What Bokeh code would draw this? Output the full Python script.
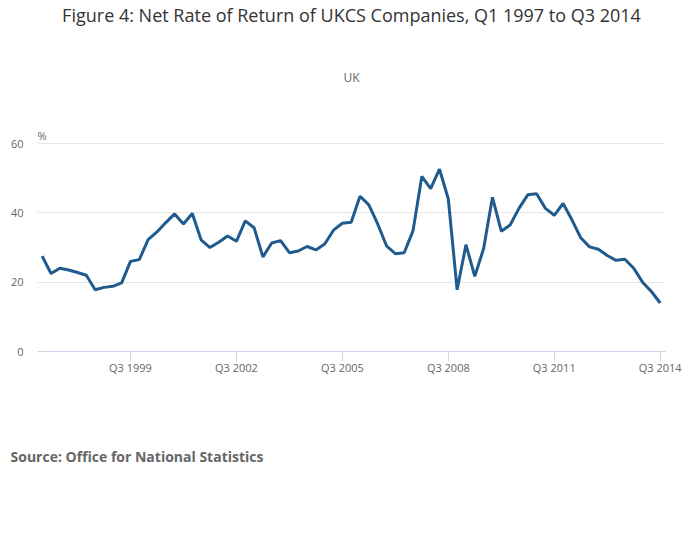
from bokeh.plotting import figure
from bokeh.models import FixedTicker, Range1d, Title
from bokeh.embed import file_html
from bokeh.resources import INLINE

values = [27.5, 22.5, 24, 23.5, 22.8, 22, 17.8, 18.5, 18.8, 19.8,
          26, 26.5, 32.3, 34.5, 37.2, 39.7, 36.8, 39.8, 32.2, 30,
          31.5, 33.3, 31.8, 37.7, 35.7, 27.3, 31.3, 32, 28.5, 29,
          30.3, 29.3, 31, 35, 37, 37.3, 44.8, 42.3, 36.8, 30.5,
          28.2, 28.5, 34.8, 50.5, 47, 52.6, 44, 17.8, 30.8, 21.7,
          29.7, 44.5, 34.7, 36.5, 41.3, 45.2, 45.5, 41.3, 39.3, 42.7,
          38, 32.8, 30.2, 29.5, 27.7, 26.3, 26.6, 24, 20, 17.3, 14]
quarters = list(range(len(values)))
tick_pos = [10, 22, 34, 46, 58, 70]
tick_labels = ["Q3 1999", "Q3 2002", "Q3 2005", "Q3 2008", "Q3 2011", "Q3 2014"]

F = "Open Sans"
p = figure(width=684, height=533, output_backend="svg", toolbar_location=None,
           x_range=Range1d(-0.53, 70.6), y_range=Range1d(0, 60.3),
           min_border_left=37, min_border_right=19, min_border_top=0, min_border_bottom=0)
p.outline_line_color = None
p.line(quarters, values, line_color="#1f5b8e", line_width=3)

p.title.text = "Figure 4: Net Rate of Return of UKCS Companies, Q1 1997 to Q3 2014"
p.title.text_font = F
p.title.text_font_size = "18px"
p.title.text_font_style = "normal"
p.title.text_color = "#333333"
p.title.align = "center"
p.title.standoff = 0

p.add_layout(Title(text="%", text_font=F, text_font_size="11px", text_font_style="normal",
                   text_color="#666666", align="left", standoff=0), "above")
p.add_layout(Title(text="UK", text_font=F, text_font_size="12px", text_font_style="normal",
                   text_color="#666666", align="center", standoff=80), "above")
p.add_layout(Title(text="Source: Office for National Statistics", text_font=F,
                   text_font_size="14px", text_font_style="bold", text_color="#666666",
                   align="left", offset=-27, standoff=135), "below")

p.xaxis.ticker = FixedTicker(ticks=tick_pos)
p.xaxis.major_label_overrides = {t: l for t, l in zip(tick_pos, tick_labels)}
p.xaxis.axis_line_color = "#ccd6eb"
p.xaxis.major_tick_line_color = "#ccd6eb"
p.xaxis.major_tick_in = 0
p.xaxis.major_tick_out = 10
p.xaxis.minor_tick_line_color = None
p.xaxis.major_label_text_font = F
p.xaxis.major_label_text_font_size = "11px"
p.xaxis.major_label_text_color = "#666666"
p.xaxis.major_label_standoff = -2

p.yaxis.ticker = FixedTicker(ticks=[0, 20, 40, 60])
p.yaxis.axis_line_color = None
p.yaxis.major_tick_line_color = None
p.yaxis.minor_tick_line_color = None
p.yaxis.major_label_text_font = F
p.yaxis.major_label_text_font_size = "11px"
p.yaxis.major_label_text_color = "#666666"
p.yaxis.major_label_standoff = 8

p.xgrid.grid_line_color = None
p.ygrid.grid_line_color = "#e6e6e6"

open("out.html", "w").write(file_html(p, INLINE))
